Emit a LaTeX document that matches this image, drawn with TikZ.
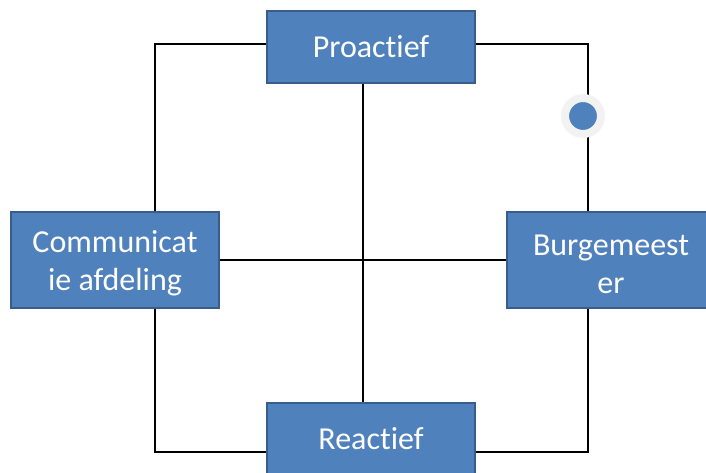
\documentclass[tikz,border=0pt]{standalone}
\usepackage{fontspec}
\setmainfont{Carlito}[RawFeature={-liga;-clig;-dlig}]
\definecolor{boxfill}{HTML}{4F81BD}
\definecolor{boxline}{HTML}{385D8A}
\definecolor{ring}{HTML}{F2F2F2}
\begin{document}
\begin{tikzpicture}[x=0.75pt,y=-0.75pt,
  blockbox/.style={rectangle, fill=boxfill, draw=boxline, line width=1pt,
    minimum width=156pt, text=white, font=\fontsize{24}{28.5}\selectfont,
    align=center, inner sep=0pt},
  wire/.style={draw=black, line width=1.4pt}]
\useasboundingbox (0,0) rectangle (706,473);
\clip (0,0) rectangle (706,473);
\fill[white] (0,0) rectangle (706,473);
\coordinate (cl) at (155,0);
\coordinate (cm) at (363,0);
\coordinate (cr) at (588,0);
\coordinate (ct) at (0,44);
\coordinate (cb) at (0,452);
\node[blockbox, minimum height=54pt] (pro) at (371,47) {Proactief};
\node[blockbox, minimum height=72pt] (com) at (115,260) {\rule{0pt}{22pt}Communicat\\ie afdeling};
\node[blockbox, minimum height=72pt] (bur) at (611,260) {\rule{0pt}{22pt}Burgemeest\\er};
\node[blockbox, minimum height=54pt] (rea) at (371,439) {Reactief};
\draw[wire] (pro.west |- ct) -| (com.north -| cl);
\draw[wire] (pro.east |- ct) -| (bur.north -| cr);
\draw[wire] (com.south -| cl) |- (rea.west |- cb);
\draw[wire] (bur.south -| cr) |- (rea.east |- cb);
\draw[wire] (pro.south -| cm) -- (rea.north -| cm);
\draw[wire] (com.east) -- (bur.west);
\node[circle, fill=boxfill, draw=ring, line width=6pt, minimum size=27pt, inner sep=0pt] (dot) at (583,116) {};
\end{tikzpicture}
\end{document}
